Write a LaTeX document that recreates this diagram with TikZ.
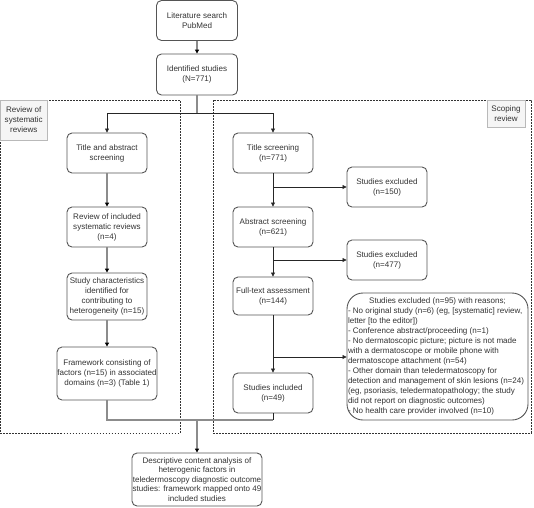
\documentclass[tikz,border=0pt]{standalone}
\usepackage{fontspec}
\setmainfont{Liberation Sans}
\usetikzlibrary{arrows.meta}
\definecolor{boxc}{HTML}{555555}
\definecolor{txtc}{HTML}{333333}
\definecolor{grayline}{HTML}{8C8C8C}
\tikzset{
  fbox/.style={draw=boxc, line width=0.9pt, rounded corners=5pt, align=center, inner sep=0pt,
    text=txtc, font=\fontsize{8.05}{10}\selectfont, minimum width=80pt, minimum height=40pt},
  labbox/.style={draw=gray!55, fill=gray!8, line width=0.8pt, align=center, inner sep=0pt,
    text=txtc, font=\fontsize{8.05}{10}\selectfont},
  dashbox/.style={draw=black!80, line width=0.6pt, dash pattern=on 1.6pt off 1.4pt},
  garrow/.style={draw=grayline, line width=1.3pt, -{Triangle[length=4pt,width=4pt,color=black]}},
  gline/.style={draw=grayline, line width=1.3pt},
  barrow/.style={draw=black!85, line width=0.7pt, -{Triangle[length=4pt,width=4pt]}},
  bline/.style={draw=black!85, line width=0.7pt},
}
\begin{document}
\begin{tikzpicture}[x=1pt,y=-1pt]
\useasboundingbox (0,0) rectangle (534,507);
% dashed groups
\draw[dashbox] (0.5,100) rectangle (180,433);
\draw[dashbox] (213,100) rectangle (531,433);
\node[labbox, minimum width=47pt, minimum height=40pt] (lab1) at (23.75,120) {Review of\\systematic\\reviews};
\node[labbox, minimum width=38pt, minimum height=27pt] (lab2) at (506,113.5) {Scoping\\review};
% top
\node[fbox, minimum width=81pt, minimum height=40pt] (lit) at (197,20.5) {Literature search\\PubMed};
\node[fbox, minimum width=81pt, minimum height=41pt] (ident) at (197,74.5) {Identified studies\\(N=771)};
% left column
\node[fbox] (tas) at (107,153) {Title and abstract\\screening};
\node[fbox] (rir) at (107,227) {Review of included\\systematic reviews\\(n=4)};
\node[fbox, minimum height=47pt] (sc) at (107,296.5) {Study characteristics\\identified for\\contributing to\\heterogeneity (n=15)};
\node[fbox, minimum width=100pt, minimum height=53pt] (fw) at (107,373.5) {Framework consisting of\\factors (n=15) in associated\\domains (n=3) (Table 1)};
% right column
\node[fbox] (ts) at (273,153) {Title screening\\(n=771)};
\node[fbox] (ex1) at (387,187) {Studies excluded\\(n=150)};
\node[fbox] (as) at (273,227) {Abstract screening\\(n=621)};
\node[fbox] (ex2) at (387,260) {Studies excluded\\(n=477)};
\node[fbox, minimum height=38pt] (ft) at (273,296) {Full-text assessment\\(n=144)};
\node[fbox, rounded corners=16pt, minimum width=181pt, minimum height=127pt, align=left] (ex3) at (437.5,356.5) {\hspace*{0pt}\makebox[179pt][c]{Studies excluded (n=95) with reasons;}\\
- No original study (n=6) (eg, [systematic] review,\\
letter [to the editor])\\
- Conference abstract/proceeding (n=1)\\
- No dermatoscopic picture; picture is not made\\
with a dermatoscope or mobile phone with\\
dermatoscope attachment (n=54)\\
- Other domain than teledermatoscopy for\\
detection and management of skin lesions (n=24)\\
(eg, psoriasis, teledermatopathology; the study\\
did not report on diagnostic outcomes)\\
- No health care provider involved (n=10)};
\node[fbox] (si) at (273,393) {Studies included\\(n=49)};
% bottom
\node[fbox, minimum width=130pt, minimum height=53pt, font=\fontsize{8.05}{9.4}\selectfont] (desc) at (197,479.5) {Descriptive content analysis of\\heterogenic factors in\\teledermoscopy diagnostic outcome\\studies: framework mapped onto 49\\included studies};
% coordinates
\coordinate (split) at (197,113);
\coordinate (sl) at (107,113);
\coordinate (sr) at (273,113);
\coordinate (e1) at (273,187);
\coordinate (e2) at (273,260);
\coordinate (e3) at (273,357);
\coordinate (jl) at (107,420);
\coordinate (jm) at (197,420);
\coordinate (jr) at (273,420);
% connectors
\draw[garrow] (lit) -- (ident);
\draw[gline] (ident) -- (split);
\draw[bline] (sl) -- (sr);
\draw[barrow] (sl) -- (tas);
\draw[barrow] (sr) -- (ts);
\draw[garrow] (tas) -- (rir);
\draw[garrow] (rir) -- (sc);
\draw[garrow] (sc) -- (fw);
\draw[barrow] (ts) -- (as);
\draw[barrow] (as) -- (ft);
\draw[barrow] (ft) -- (si);
\draw[barrow] (e1) -- (ex1);
\draw[barrow] (e2) -- (ex2);
\draw[barrow] (e3) -- (ex3.west |- e3);
\draw[gline] (fw) -- (jl) -- (jr);
\draw[bline] (si) -- (jr);
\draw[garrow] (jm) -- (desc);
\end{tikzpicture}
\end{document}
